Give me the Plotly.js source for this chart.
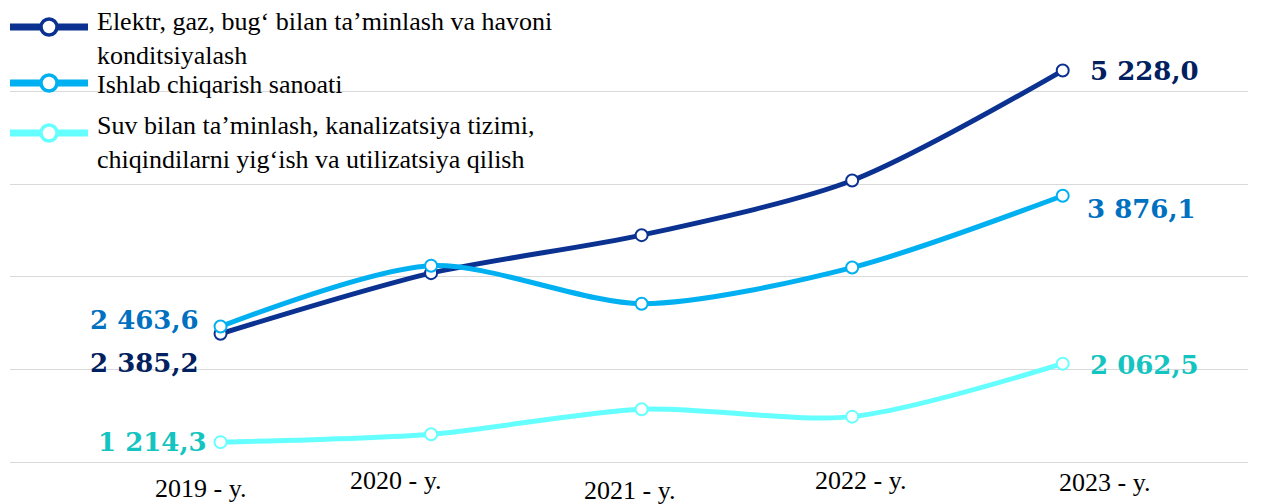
<!DOCTYPE html>
<html>
<head>
<meta charset="utf-8">
<script src="https://cdn.plot.ly/plotly-3.0.1.min.js"></script>
<style>html,body{margin:0;padding:0;background:#fff;}#chart{width:1263px;height:504px;}</style>
</head>
<body>
<div id="chart"></div>
<script>
// ---- data ----
var categories = ["2019 - y.", "2020 - y.", "2021 - y.", "2022 - y.", "2023 - y."];
var tickLabels = ["2019 - y.", "2020 - y.", "2021 - y.", "2022 - y.", "2023 - y."];
var seriesNames = [
  "Elektr, gaz, bug‘ bilan ta’minlash va havoni<br>konditsiyalash",
  "Ishlab chiqarish sanoati",
  "Suv bilan ta’minlash, kanalizatsiya tizimi,<br>chiqindilarni yig‘ish va utilizatsiya qilish"
];
var elektrValues = [2385.2, 3040, 3450, 4040, 5228.0];
var sanoatValues = [2463.6, 3120, 2710, 3100, 3876.1];
var suvValues = [1214.3, 1300, 1570, 1490, 2062.5];

// ---- styles / layout helpers ----
var SERIF = "'Liberation Serif', 'Times New Roman', Times, serif";
var lineColors = ["#0B3291", "#00B0F0", "#66FFFF"];
var labelColors = ["#002060", "#0070C0", "#14C4C0"];
var allValues = [elektrValues, sanoatValues, suvValues];
// label offsets [first(xshift,yshift), last(xshift,yshift)]
var labelOffsets = [
  [[-20, -29], [25, 0]],
  [[-20, 6], [22, -13]],
  [[-12, 0], [25, -1]]
];
var tickOffsets = [[-20, -26], [-36, -18], [-12, -28], [8, -18], [42, -20]];

var W = 1263, H = 504, ML = 10, MR = 15, MT = 0, MB = 42;
var PW = W - ML - MR, PH = H - MT - MB;
function px(x) { return (x - ML) / PW; }
function py(y) { return 1 - (y - MT) / PH; }

function fmt(v) {
  var s = v.toFixed(1).split(".");
  var intPart = s[0].replace(/\B(?=(\d{3})+(?!\d))/g, " ");
  return intPart + "," + s[1];
}

var traces = allValues.map(function (vals, i) {
  return {
    x: categories,
    y: vals,
    type: "scatter",
    mode: "lines+markers",
    name: seriesNames[i],
    line: { color: lineColors[i], width: 5, shape: "spline", smoothing: 0.8 },
    marker: { size: 12, color: "#ffffff", line: { color: lineColors[i], width: 2 } },
    showlegend: false,
    hoverinfo: "skip"
  };
});
traces = [traces[2], traces[0], traces[1]];

var annotations = [];
allValues.forEach(function (vals, i) {
  var last = vals.length - 1;
  [[0, "right"], [last, "left"]].forEach(function (p, k) {
    annotations.push({
      x: p[0], y: vals[p[0]], xref: "x", yref: "y",
      text: fmt(vals[p[0]]), showarrow: false,
      xanchor: p[1], yanchor: "middle",
      xshift: labelOffsets[i][k][0], yshift: labelOffsets[i][k][1],
      font: { family: "DejaVu Serif", size: 26, color: labelColors[i], weight: "bold" }
    });
  });
});
tickLabels.forEach(function (t, i) {
  annotations.push({
    x: i, y: 0, xref: "x", yref: "paper",
    text: t, showarrow: false, xanchor: "center", yanchor: "middle",
    xshift: tickOffsets[i][0], yshift: tickOffsets[i][1],
    font: { family: SERIF, size: 26, color: "#000000" }
  });
});

// custom legend
var legendSymbolY = [27, 83, 133];
var legendTextY = [38.5, 85, 142.5];
var shapes = [];
seriesNames.forEach(function (n, i) {
  shapes.push({
    type: "line", xref: "paper", yref: "paper",
    x0: px(10), x1: px(88), y0: py(legendSymbolY[i]), y1: py(legendSymbolY[i]),
    line: { color: lineColors[i], width: 7 }, layer: "above"
  });
  shapes.push({
    type: "circle", xref: "paper", yref: "paper",
    x0: px(49 - 8), x1: px(49 + 8), y0: py(legendSymbolY[i] + 8), y1: py(legendSymbolY[i] - 8),
    fillcolor: "#ffffff", line: { color: lineColors[i], width: 3.5 }, layer: "above"
  });
  annotations.push({
    x: px(95), y: py(legendTextY[i]), xref: "paper", yref: "paper",
    text: n, showarrow: false, xanchor: "left", yanchor: "middle", align: "left",
    font: { family: SERIF, size: 26, color: "#000000" }
  });
});

var layout = {
  width: W, height: H,
  margin: { l: ML, r: MR, t: MT, b: MB, pad: 0 },
  paper_bgcolor: "#ffffff", plot_bgcolor: "#ffffff",
  showlegend: false,
  xaxis: {
    type: "category", range: [-1.0, 4.88], showgrid: false, zeroline: false,
    showticklabels: false, ticks: "", showline: true, linecolor: "#d9d9d9", linewidth: 1
  },
  yaxis: {
    range: [1000, 5990], dtick: 1000, tick0: 0, showgrid: true, gridcolor: "#d9d9d9", gridwidth: 1,
    zeroline: false, showticklabels: false, ticks: "", showline: false
  },
  annotations: annotations,
  shapes: shapes
};

Plotly.newPlot("chart", traces, layout, { staticPlot: true, displayModeBar: false });
</script>
</body>
</html>
